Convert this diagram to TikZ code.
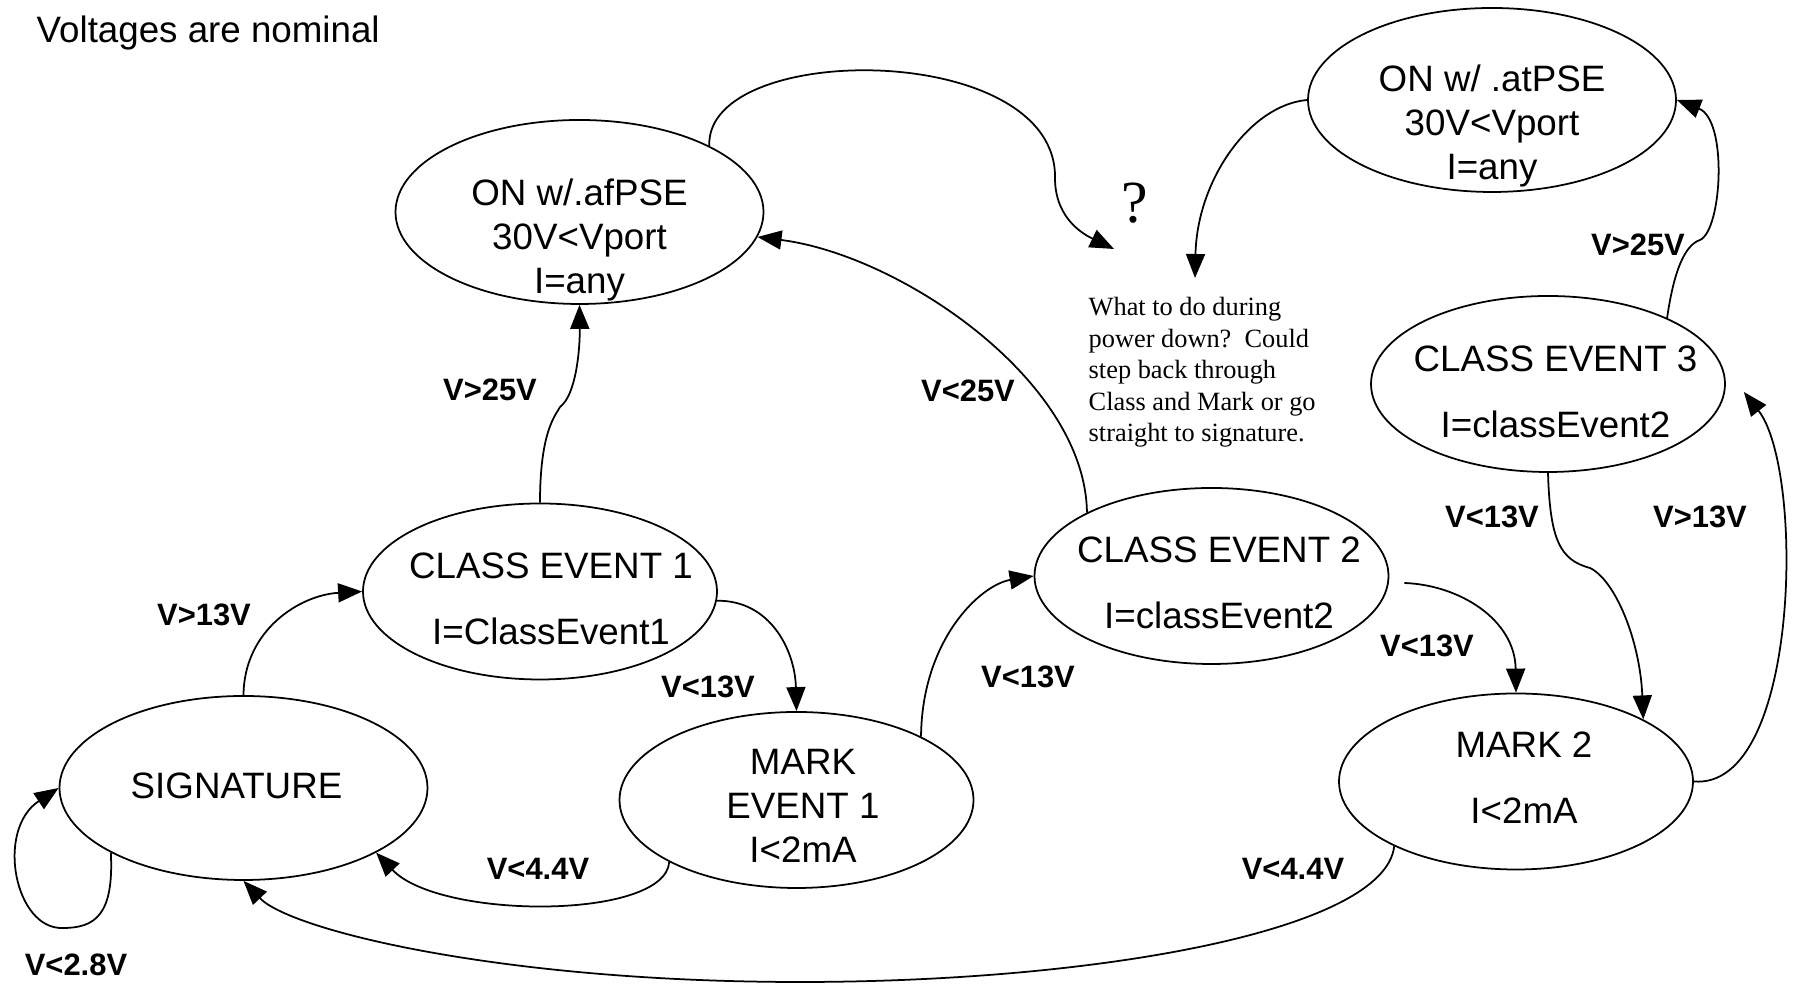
\documentclass[tikz,border=0pt]{standalone}
\usepackage{fontspec}
\setmainfont{Liberation Sans}
\newfontfamily\notefont{Liberation Serif}
\usepackage{tikz}
\usetikzlibrary{shapes.geometric, arrows.meta}
\tikzset{state/.style = {ellipse,draw,line width=0.5pt,inner sep=0pt,minimum width=3.54cm,minimum height=1.76cm,font=\fontsize{10.45}{12.6}\selectfont},
         bigstate/.style = {state,minimum width=3.68cm,minimum height=1.84cm},
         cond/.style = {inner sep=0pt,font=\fontsize{8.8}{10}\selectfont\bfseries},
         trans/.style = {line width=0.5pt,-{Triangle[length=2.4mm,width=1.9mm]}}}
\newcommand{\stxt}[3]{\raisebox{#2}[0pt][0pt]{\makebox[0pt]{\hspace*{2\dimexpr#1\relax}\begin{tabular}{@{}c@{}}#3\end{tabular}}}}

\begin{document}
\begin{tikzpicture}
            \useasboundingbox (0,0) rectangle (17.95,9.85);
            \node[anchor=base west,inner sep=0pt,font=\fontsize{10.45}{12.6}\selectfont] (title) at (0.36,9.42) {Voltages are nominal};
            \node[bigstate] (onaf)  at (5.795,7.73) {\stxt{0cm}{-0.374cm}{ON w/.afPSE\\30V<Vport\\I=any}};
            \node[bigstate] (onat)  at (14.92,8.85) {\stxt{0cm}{-0.354cm}{ON w/ .atPSE\\30V<Vport\\I=any}};
            \node[state]    (ce1)   at (5.40,3.935) {\stxt{0.11cm}{-0.204cm}{CLASS EVENT 1\\[6.2pt]I=ClassEvent1}};
            \node[state]    (ce2)   at (12.115,4.09) {\stxt{0.075cm}{-0.194cm}{CLASS EVENT 2\\[6.2pt]I=classEvent2}};
            \node[state]    (ce3)   at (15.48,6.01) {\stxt{0.075cm}{-0.2cm}{CLASS EVENT 3\\[6.2pt]I=classEvent2}};
            \node[state]    (mark1) at (7.965,1.85) {\stxt{0.065cm}{-0.184cm}{MARK\\EVENT 1\\I<2mA}};
            \node[state]    (mark2) at (15.16,2.035) {\stxt{0.08cm}{-0.089cm}{MARK 2\\[6.2pt]I<2mA}};
            \node[bigstate] (sig)   at (2.435,1.97) {\stxt{-0.07cm}{-0.104cm}{SIGNATURE}};
            \node[inner sep=0pt,font=\notefont\fontsize{17}{20}\selectfont] (qmark) at (11.35,7.82) {?};
            \node[anchor=base west,inner sep=0pt,align=left,font=\notefont\fontsize{7.5}{9}\selectfont] (note) at (10.88,5.43)
                {What to do during\\power down?\ \ Could\\step back through\\Class and Mark or go\\straight to signature.};
            \coordinate (qtip) at (11.14,7.36);
            \coordinate (ntip) at (11.95,7.07);
            \draw[trans] (ce1.north) .. controls (5.40,5.55) and (5.56,5.70) .. (5.60,5.78) .. controls (5.76,5.90) and (5.80,6.35) .. (onaf.south);
            \draw[trans] (ce2.153) .. controls (10.85,6.05) and (9.00,7.30) .. (onaf.-8);
            \draw[trans] (onaf.27) .. controls (7.05,9.45) and (10.60,9.45) .. (10.55,8.05) .. controls (10.56,7.65) and (10.85,7.50) .. (qtip);
            \draw[trans] (onat.west) .. controls (12.50,8.80) and (11.97,8.05) .. (ntip);
            \draw[trans] (ce3.29) .. controls (16.74,7.15) and (16.85,7.40) .. (17.00,7.45) .. controls (17.22,7.55) and (17.28,8.65) .. (onat.east);
            \draw[trans] (ce3.south) .. controls (15.50,4.45) and (15.60,4.25) .. (15.90,4.17) .. controls (16.15,4.05) and (16.40,3.45) .. (mark2.26);
            \draw[trans] (mark2.east) .. controls (18.00,1.95) and (18.05,5.15) .. ([xshift=1.8mm,yshift=-0.8mm]ce3.east);
            \draw[trans] ([xshift=1.5mm,yshift=-0.7mm]ce2.east) .. controls (14.60,4.00) and (15.15,3.65) .. (mark2.north);
            \draw[trans] (mark1.27) .. controls (9.22,3.45) and (9.80,4.00) .. (ce2.west);
            \draw[trans] (ce1.-3) .. controls (7.70,3.85) and (7.95,3.35) .. (mark1.north);
            \draw[trans] (sig.north) .. controls (2.44,3.55) and (3.00,3.90) .. (ce1.west);
            \draw[trans] (mark1.206) .. controls (6.65,0.65) and (4.40,0.65) .. (sig.-26);
            \draw[trans] (mark2.208) .. controls (13.85,0.55) and (11.00,0.03) .. (8.00,0.03) .. controls (5.00,0.03) and (2.90,0.55) .. (sig.south);
            \draw[trans] (sig.206) .. controls (1.14,0.70) and (0.95,0.57) .. (0.63,0.57) .. controls (0.15,0.55) and (-0.05,1.55) .. (sig.west);
            \node[cond] (ce1on)  at (4.90,5.95) {V>25V};
            \node[cond] (ce2on)  at (9.68,5.94) {V<25V};
            \node[cond] (ce3on)  at (16.38,7.40) {V>25V};
            \node[cond] (ce3m2)  at (14.92,4.68) {V<13V};
            \node[cond] (m2ce3)  at (17.00,4.68) {V>13V};
            \node[cond] (sigce1) at (2.04,3.70) {V>13V};
            \node[cond] (ce1m1)  at (7.08,2.98) {V<13V};
            \node[cond] (m1ce2)  at (10.28,3.08) {V<13V};
            \node[cond] (ce2m2)  at (14.27,3.39) {V<13V};
            \node[cond] (m1sig)  at (5.38,1.16) {V<4.4V};
            \node[cond] (m2sig)  at (12.93,1.16) {V<4.4V};
            \node[cond] (sigsig) at (0.76,0.20) {V<2.8V};
        \end{tikzpicture}
\end{document}
